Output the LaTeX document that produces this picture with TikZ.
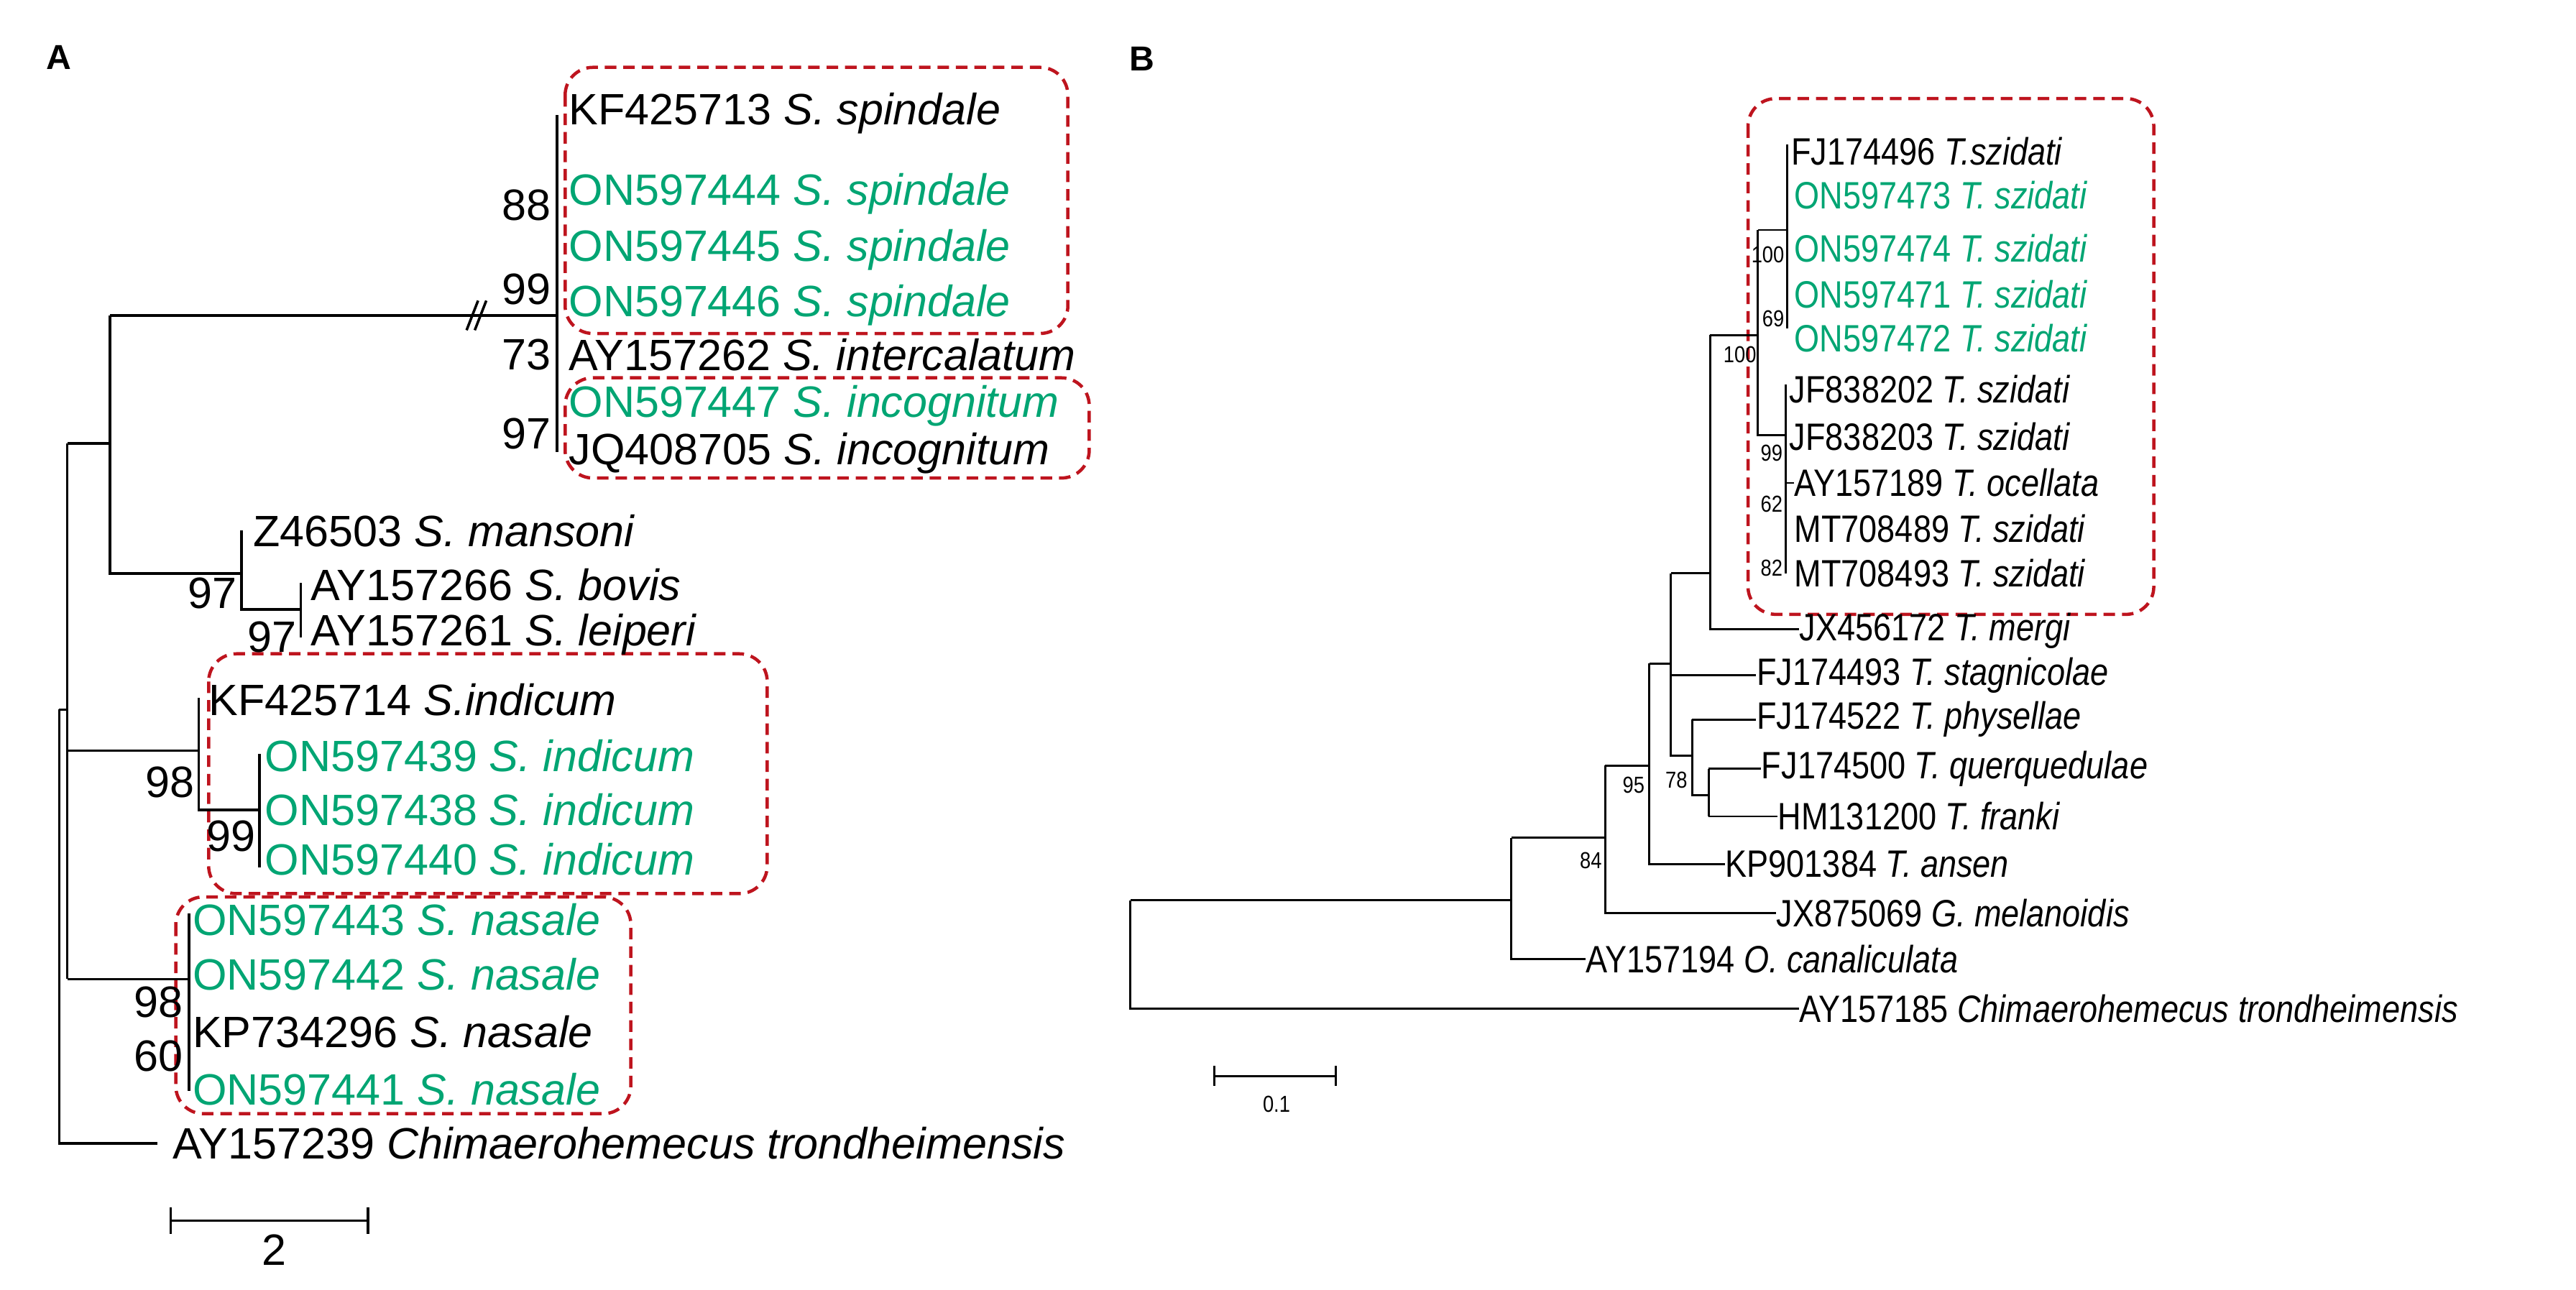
\documentclass[tikz,border=0pt]{standalone}
\usepackage{fontspec}
\setmainfont{Liberation Sans}
\newfontfamily\narrowfont[FakeStretch=0.85]{Liberation Sans}
\definecolor{grn}{RGB}{0,165,115}
\definecolor{boxred}{RGB}{190,20,30}
\newcommand{\fA}{\fontsize{19}{22}\selectfont}
\newcommand{\fB}{\narrowfont\fontsize{16.5}{19}\selectfont}
\newcommand{\fBs}{\narrowfont\fontsize{10}{12}\selectfont}
\tikzset{
  lab/.style={anchor=west,font=\fA,inner sep=0pt},
  glab/.style={lab,text=grn},
  blab/.style={anchor=west,font=\fB,inner sep=0pt},
  gblab/.style={blab,text=grn},
  bs/.style={anchor=east,font=\fA,inner sep=1pt},
  bsb/.style={anchor=east,font=\fBs,inner sep=0.5pt},
  tr/.style={line width=1.1pt},
  trb/.style={line width=0.9pt},
  grp/.style={draw=boxred,dash pattern=on 5pt off 3pt,line width=1.4pt,rounded corners=12pt},
  panel/.style={font=\bfseries\fontsize{15}{18}\selectfont,anchor=center}
}
\begin{document}
\begin{tikzpicture}[x=0.025cm,y=-0.025cm]
\useasboundingbox (0,0) rectangle (1568,785);
\fill[white] (0,0) rectangle (1568,785);
% ---------------- Panel A ----------------
\node[panel] (pA) at (36,35) {A};
% boxes
\draw[grp] (344,41) rectangle (650,203);
\draw[grp] (344,230) rectangle (663,291);
\draw[grp] (127,398) rectangle (467,544);
\draw[grp] (107,546) rectangle (384,678);
% tree
\draw[tr] (339,70) -- (339,275);
\draw[tr] (67,192) -- (339,192);
\draw[tr] (284,201) -- (291,183) (289,201) -- (296,183);
\draw[tr] (67,192) -- (67,349) -- (147,349);
\draw[tr] (147,323) -- (147,371) -- (183,371);
\draw[tr] (183,355) -- (183,388);
\draw[tr] (41,270) -- (67,270);
\draw[tr] (41,270) -- (41,596);
\draw[tr] (41,457) -- (121,457);
\draw[tr] (121,425) -- (121,493) -- (158,493);
\draw[tr] (158,459) -- (158,528);
\draw[tr] (41,596) -- (115,596);
\draw[tr] (115,556) -- (115,664);
\draw[tr] (36,432) -- (41,432);
\draw[tr] (36,432) -- (36,696) -- (96,696);
% labels
\node[lab] (a1) at (346,69) {KF425713 \textit{S.\ spindale}};
\node[glab] (a2) at (346,118) {ON597444 \textit{S.\ spindale}};
\node[glab] (a3) at (346,152) {ON597445 \textit{S.\ spindale}};
\node[glab] (a4) at (346,186) {ON597446 \textit{S.\ spindale}};
\node[lab] (a5) at (346,216) {AY157262 \textit{S.\ intercalatum}};
\node[glab] (a6) at (346,247) {ON597447 \textit{S.\ incognitum}};
\node[lab] (a7) at (346,276) {JQ408705 \textit{S.\ incognitum}};
\node[lab] (a8) at (154,323) {Z46503 \textit{S.\ mansoni}};
\node[lab] (a9) at (189,356) {AY157266 \textit{S.\ bovis}};
\node[lab] (a10) at (189,386) {AY157261 \textit{S.\ leiperi}};
\node[lab] (a11) at (127,426) {KF425714 \textit{S.indicum}};
\node[glab] (a12) at (161,460) {ON597439 \textit{S.\ indicum}};
\node[glab] (a13) at (161,493) {ON597438 \textit{S.\ indicum}};
\node[glab] (a14) at (161,523) {ON597440 \textit{S.\ indicum}};
\node[glab] (a15) at (117,560) {ON597443 \textit{S.\ nasale}};
\node[glab] (a16) at (117,593) {ON597442 \textit{S.\ nasale}};
\node[lab] (a17) at (117,628) {KP734296 \textit{S.\ nasale}};
\node[glab] (a18) at (117,663) {ON597441 \textit{S.\ nasale}};
\node[lab] (a19) at (105,696) {AY157239 \textit{Chimaerohemecus trondheimensis}};
% bootstraps
\node[bs] at (337,125) {88};
\node[bs] at (337,176) {99};
\node[bs] at (337,216) {73};
\node[bs] at (337,264) {97};
\node[bs] at (146,361) {97};
\node[bs] at (182,388) {97};
\node[bs] at (120,476) {98};
\node[bs] at (157,509) {99};
\node[bs] at (113,610) {98};
\node[bs] at (113,643) {60};
% scale bar
\draw[tr] (104,743) -- (224,743) (104,735) -- (104,751) (224,735) -- (224,751);
\node[font=\fA] (sA) at (167,761) {2};
% ---------------- Panel B ----------------
\node[panel] (pB) at (695,36) {B};
\draw[grp] (1064,60) rectangle (1311,374);
% tree
\draw[trb] (1088,88) -- (1088,200);
\draw[trb] (1070,140) -- (1088,140);
\draw[trb] (1070,140) -- (1070,265) -- (1087,265);
\draw[trb] (1087,234) -- (1087,349);
\draw[trb] (1087,294) -- (1092,294);
\draw[trb] (1041,204) -- (1070,204);
\draw[trb] (1041,204) -- (1041,383) -- (1095,383);
\draw[trb] (1017,349) -- (1041,349);
\draw[trb] (1017,349) -- (1017,460) -- (1030,460);
\draw[trb] (1017,411) -- (1069,411);
\draw[trb] (1030,438) -- (1030,484) -- (1040,484);
\draw[trb] (1030,438) -- (1069,438);
\draw[trb] (1040,468) -- (1040,497);
\draw[trb] (1040,468) -- (1072,468);
\draw[trb] (1040,497) -- (1082,497);
\draw[trb] (1004,404) -- (1017,404);
\draw[trb] (1004,404) -- (1004,526) -- (1050,526);
\draw[trb] (977,466) -- (1004,466);
\draw[trb] (977,466) -- (977,556) -- (1081,556);
\draw[trb] (920,510) -- (977,510);
\draw[trb] (920,510) -- (920,584) -- (965,584);
\draw[trb] (688,548) -- (920,548);
\draw[trb] (688,548) -- (688,614) -- (1095,614);
% labels
\node[blab] (b1) at (1090,92) {FJ174496 \textit{T.szidati}};
\node[gblab] (b2) at (1092,119) {ON597473 \textit{T.\ szidati}};
\node[gblab] (b3) at (1092,151) {ON597474 \textit{T.\ szidati}};
\node[gblab] (b4) at (1092,179) {ON597471 \textit{T.\ szidati}};
\node[gblab] (b5) at (1092,206) {ON597472 \textit{T.\ szidati}};
\node[blab] (b6) at (1089,237) {JF838202 \textit{T.\ szidati}};
\node[blab] (b7) at (1089,266) {JF838203 \textit{T.\ szidati}};
\node[blab] (b8) at (1092,294) {AY157189 \textit{T.\ ocellata}};
\node[blab] (b9) at (1092,322) {MT708489 \textit{T.\ szidati}};
\node[blab] (b10) at (1092,349) {MT708493 \textit{T.\ szidati}};
\node[blab] (b11) at (1095,384) {JX456172 \textit{T.\ mergi}};
\node[blab] (b12) at (1069,411) {FJ174493 \textit{T.\ stagnicolae}};
\node[blab] (b13) at (1069,438) {FJ174522 \textit{T.\ physellae}};
\node[blab] (b14) at (1072,468) {FJ174500 \textit{T.\ querquedulae}};
\node[blab] (b15) at (1082,497) {HM131200 \textit{T.\ franki}};
\node[blab] (b16) at (1050,526) {KP901384 \textit{T.\ ansen}};
\node[blab] (b17) at (1081,556) {JX875069 \textit{G.\ melanoidis}};
\node[blab] (b18) at (965,584) {AY157194 \textit{O.\ canaliculata}};
\node[blab] (b19) at (1095,614) {AY157185 \textit{Chimaerohemecus trondheimensis}};
% bootstraps
\node[bsb] at (1087,155) {100};
\node[bsb] at (1087,194) {69};
\node[bsb] at (1070,216) {100};
\node[bsb] at (1086,276) {99};
\node[bsb] at (1086,307) {62};
\node[bsb] at (1086,346) {82};
\node[bsb] at (1028,475) {78};
\node[bsb] at (1002,478) {95};
\node[bsb] at (976,524) {84};
% scale bar
\draw[trb] (739,655) -- (813,655) (739,649) -- (739,661) (813,649) -- (813,661);
\node[font=\fBs] (sB) at (777,672) {0.1};
\end{tikzpicture}
\end{document}
